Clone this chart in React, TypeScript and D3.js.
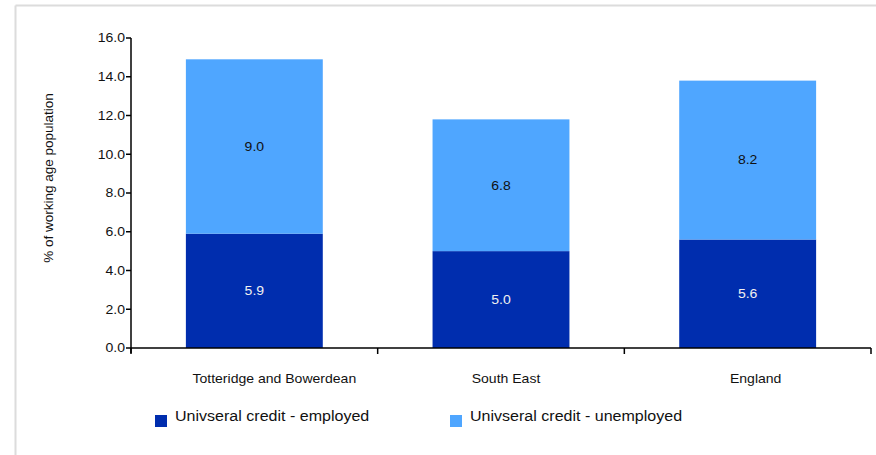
import React from "react";
import * as d3 from "d3";

const categories = ["Totteridge and Bowerdean", "South East", "England"];
const employed = [5.9, 5.0, 5.6];
const unemployed = [9.0, 6.8, 8.2];
const yTicks = [0, 2, 4, 6, 8, 10, 12, 14, 16];
const seriesNames = ["Univseral credit - employed", "Univseral credit - unemployed"];
const colors = ["#002DAE", "#4FA6FF"];

const W = 876;
const H = 455;
const margin = { left: 131, right: 5, top: 38, bottom: 107 };
const FONT = "'Liberation Sans', Arial, sans-serif";
const SX = 1.08;
const LABEL_DX = [20, 5, 8];

function T(props: {
  x: number;
  y: number;
  size: number;
  anchor?: "start" | "middle" | "end";
  fill?: string;
  rotate?: number;
  sx?: number;
  children: React.ReactNode;
}) {
  const { x, y, size, anchor = "start", fill = "#111", rotate = 0, sx = SX, children } = props;
  return (
    <text
      transform={`translate(${x},${y}) rotate(${rotate}) scale(${sx},1)`}
      textAnchor={anchor}
      dominantBaseline="central"
      fontSize={size}
      fill={fill}
    >
      {children}
    </text>
  );
}

export default function App() {
  const x = d3
    .scaleBand<string>()
    .domain(categories)
    .range([margin.left, W - margin.right])
    .paddingInner(0.445)
    .paddingOuter(0.2225);
  const xOuter = d3.scaleBand<string>().domain(categories).range([margin.left, W - margin.right]);
  const y = d3.scaleLinear().domain([0, 16]).range([H - margin.bottom, margin.top]);

  const stacked = categories.map((c, i) => ({
    c,
    segs: [
      { y0: 0, y1: employed[i], v: employed[i], color: colors[0], text: "#f0f0f0" },
      { y0: employed[i], y1: employed[i] + unemployed[i], v: unemployed[i], color: colors[1], text: "#111" },
    ],
  }));

  const x0 = margin.left;
  const x1 = W - margin.right;
  const y0 = y(0);

  return (
    <svg
      width={W}
      height={H}
      style={{ position: "fixed", left: 0, top: 0, background: "#fff" }}
      fontFamily={FONT}
    >
      {/* frame */}
      <line x1={15.5} x2={W} y1={5.5} y2={5.5} stroke="#dcdcdc" strokeWidth={2} />
      <line x1={15.5} x2={15.5} y1={5.5} y2={H} stroke="#dcdcdc" strokeWidth={2} />

      {/* bars */}
      {stacked.map((d) =>
        d.segs.map((s, j) => (
          <g key={d.c + j}>
            <rect
              x={x(d.c)}
              width={x.bandwidth()}
              y={y(s.y1)}
              height={y(s.y0) - y(s.y1)}
              fill={s.color}
            />
            <T
              x={(x(d.c) as number) + x.bandwidth() / 2}
              y={(y(s.y0) + y(s.y1)) / 2}
              anchor="middle"
              size={13}
              fill={s.text}
            >
              {d3.format(".1f")(s.v)}
            </T>
          </g>
        ))
      )}

      {/* y axis */}
      <line x1={x0} x2={x0} y1={y(16)} y2={y0 + 5} stroke="#000" strokeWidth={1.5} />
      {yTicks.map((t) => (
        <g key={t}>
          <line x1={x0 - 5} x2={x0} y1={y(t)} y2={y(t)} stroke="#000" strokeWidth={1.5} />
          <T x={x0 - 6} y={y(t)} anchor="end" size={13}>
            {d3.format(".1f")(t)}
          </T>
        </g>
      ))}
      <T x={49} y={178} anchor="middle" size={13} rotate={-90} sx={1.04}>
        % of working age population
      </T>

      {/* x axis */}
      <line x1={x0} x2={x1} y1={y0} y2={y0} stroke="#000" strokeWidth={1.5} />
      {categories.map((c, i) => (
        <line
          key={"t" + i}
          x1={xOuter(c) as number}
          x2={xOuter(c) as number}
          y1={y0}
          y2={y0 + 6}
          stroke="#000"
          strokeWidth={1.5}
        />
      ))}
      <line x1={x1} x2={x1} y1={y0} y2={y0 + 6} stroke="#000" strokeWidth={1.5} />
      {categories.map((c, i) => (
        <T
          key={c}
          x={(xOuter(c) as number) + xOuter.bandwidth() / 2 + LABEL_DX[i]}
          y={379}
          anchor="middle"
          size={13}
        >
          {c}
        </T>
      ))}

      {/* legend */}
      {seriesNames.map((n, i) => {
        const lx = i === 0 ? 155 : 450;
        return (
          <g key={n}>
            <rect x={lx} y={415} width={12} height={12} fill={colors[i]} />
            <T x={lx + 20} y={416} size={15} sx={1.07}>
              {n}
            </T>
          </g>
        );
      })}
    </svg>
  );
}
